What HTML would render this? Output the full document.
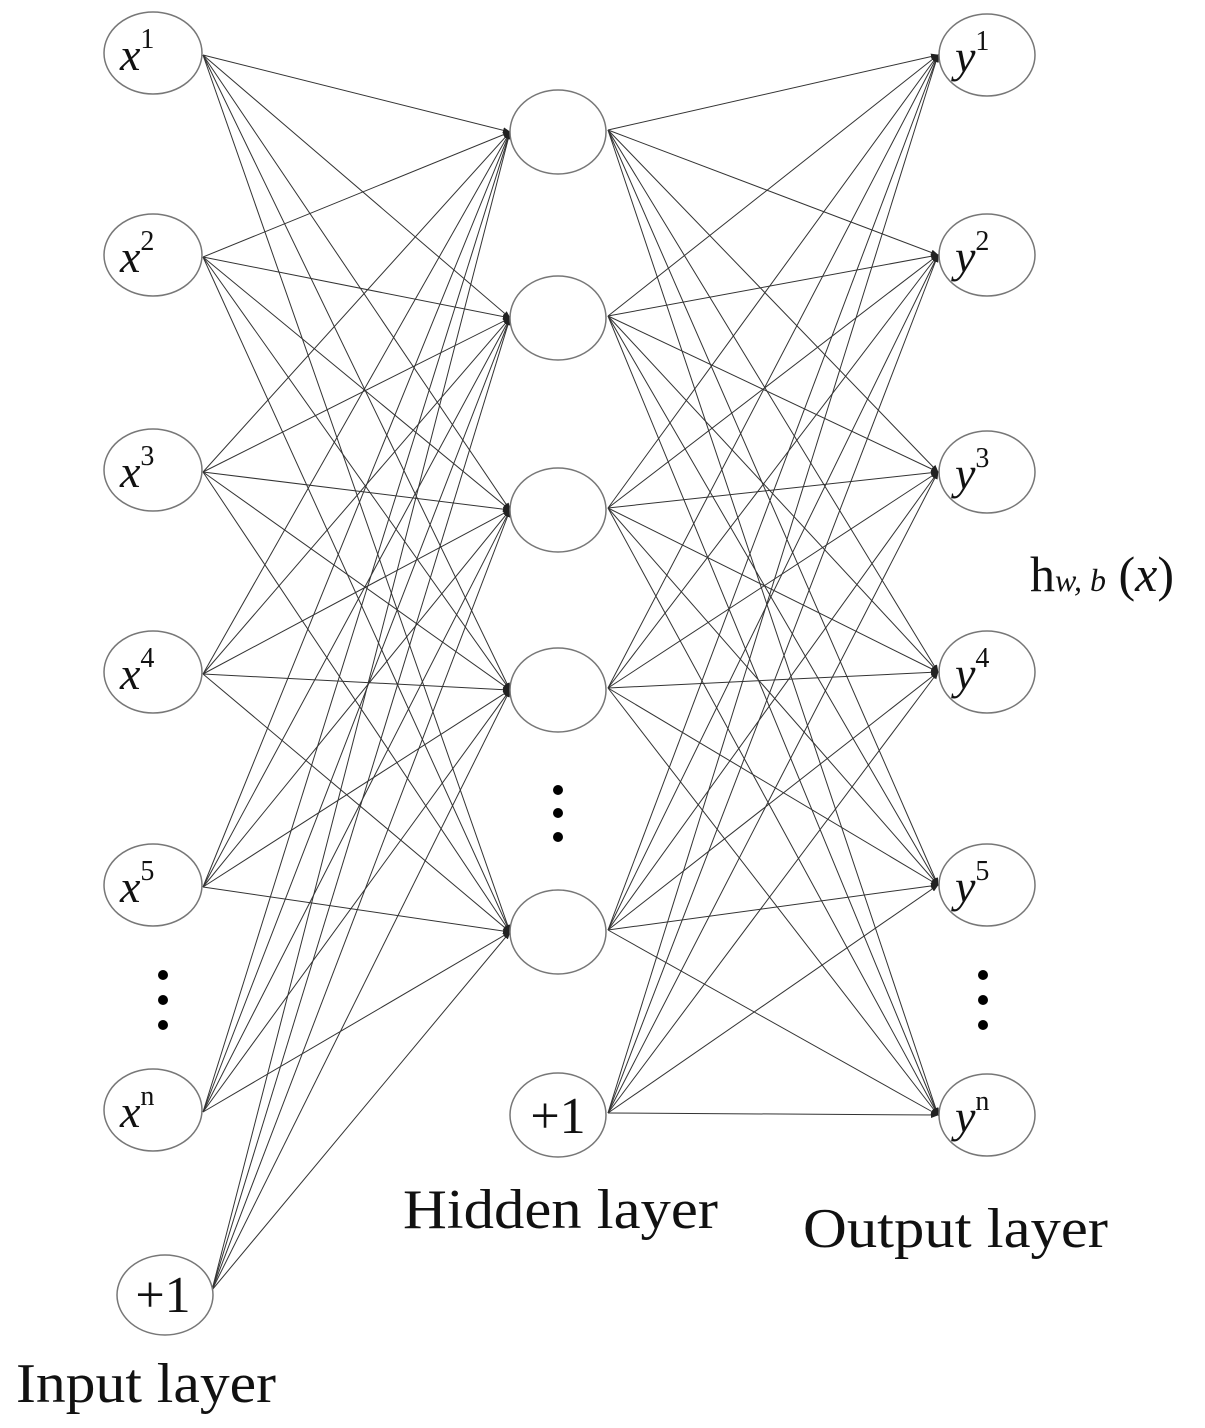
<!DOCTYPE html>
<html><head><meta charset="utf-8"><style>
html,body{margin:0;padding:0;background:#fff;}
svg{display:block;}
text{font-family:"Liberation Serif",serif;fill:#111;}
</style></head><body>
<svg id="s" width="1205" height="1428" viewBox="0 0 1205 1428" xmlns="http://www.w3.org/2000/svg">
<defs>
<marker id="a" markerWidth="8" markerHeight="6" refX="7" refY="3" orient="auto" markerUnits="userSpaceOnUse">
<path d="M0,0 L8,3 L0,6 z" fill="#222"/>
</marker>
</defs>
<g id="edges" stroke="#333" stroke-width="1" fill="none"></g>
<g fill="#fff" stroke="#777" stroke-width="1.5">
<ellipse cx="153" cy="53" rx="49" ry="41"/>
<ellipse cx="153" cy="255" rx="49" ry="41"/>
<ellipse cx="153" cy="470" rx="49" ry="41"/>
<ellipse cx="153" cy="672" rx="49" ry="41"/>
<ellipse cx="153" cy="885" rx="49" ry="41"/>
<ellipse cx="153" cy="1110" rx="49" ry="41"/>
<ellipse cx="165" cy="1295" rx="48" ry="40"/>
<ellipse cx="558" cy="132" rx="48" ry="42"/>
<ellipse cx="558" cy="318" rx="48" ry="42"/>
<ellipse cx="558" cy="510" rx="48" ry="42"/>
<ellipse cx="558" cy="690" rx="48" ry="42"/>
<ellipse cx="558" cy="932" rx="48" ry="42"/>
<ellipse cx="558" cy="1115" rx="48" ry="42"/>
<ellipse cx="987" cy="55" rx="48" ry="41"/>
<ellipse cx="987" cy="255" rx="48" ry="41"/>
<ellipse cx="987" cy="472" rx="48" ry="41"/>
<ellipse cx="987" cy="672" rx="48" ry="41"/>
<ellipse cx="987" cy="885" rx="48" ry="41"/>
<ellipse cx="987" cy="1115" rx="48" ry="41"/>
</g>
<g font-size="46" font-style="italic">
<text x="120" y="70">x<tspan font-size="28" font-style="normal" dy="-22">1</tspan></text>
<text x="120" y="272">x<tspan font-size="28" font-style="normal" dy="-22">2</tspan></text>
<text x="120" y="487">x<tspan font-size="28" font-style="normal" dy="-22">3</tspan></text>
<text x="120" y="689">x<tspan font-size="28" font-style="normal" dy="-22">4</tspan></text>
<text x="120" y="902">x<tspan font-size="28" font-style="normal" dy="-22">5</tspan></text>
<text x="120" y="1127">x<tspan font-size="28" font-style="normal" dy="-22">n</tspan></text>
<text x="955" y="72">y<tspan font-size="28" font-style="normal" dy="-22">1</tspan></text>
<text x="955" y="272">y<tspan font-size="28" font-style="normal" dy="-22">2</tspan></text>
<text x="955" y="489">y<tspan font-size="28" font-style="normal" dy="-22">3</tspan></text>
<text x="955" y="689">y<tspan font-size="28" font-style="normal" dy="-22">4</tspan></text>
<text x="955" y="902">y<tspan font-size="28" font-style="normal" dy="-22">5</tspan></text>
<text x="955" y="1132">y<tspan font-size="28" font-style="normal" dy="-22">n</tspan></text>
</g>
<text x="163" y="1312" font-size="52" text-anchor="middle">+1</text>
<text x="558" y="1133" font-size="52" text-anchor="middle">+1</text>
<g fill="#000">
<circle cx="163" cy="975" r="5"/><circle cx="163" cy="1000" r="5"/><circle cx="163" cy="1025" r="5"/>
<circle cx="558" cy="790" r="5"/><circle cx="558" cy="813" r="5"/><circle cx="558" cy="837" r="5"/>
<circle cx="983" cy="975" r="5"/><circle cx="983" cy="1000" r="5"/><circle cx="983" cy="1025" r="5"/>
</g>
<text x="1030" y="591" font-size="50">h<tspan font-size="32" font-style="italic">w, b</tspan><tspan> (</tspan><tspan font-style="italic">x</tspan>)</text>
<text x="403" y="1228" font-size="56" textLength="315" lengthAdjust="spacingAndGlyphs">Hidden layer</text>
<text x="803" y="1247" font-size="56" textLength="305" lengthAdjust="spacingAndGlyphs">Output layer</text>
<text x="16" y="1402" font-size="56" textLength="260" lengthAdjust="spacingAndGlyphs">Input layer</text>
</svg>
<script>
(function(){
var g=document.getElementById('edges');
var ns='http://www.w3.org/2000/svg';
function L(x1,y1,x2,y2){var l=document.createElementNS(ns,'line');l.setAttribute('x1',x1);l.setAttribute('y1',y1);l.setAttribute('x2',x2);l.setAttribute('y2',y2);l.setAttribute('marker-end','url(#a)');g.appendChild(l);}
var inp=[[203,55],[203,257],[203,472],[203,674],[203,887],[203,1112],[212,1290]];
var hid=[132,318,510,690,932];
var hs=[[608,130],[608,316],[608,508],[608,688],[608,930],[608,1113]];
var out=[55,255,472,672,885,1115];
inp.forEach(function(p){hid.forEach(function(h){L(p[0],p[1],510,h);});});
hs.forEach(function(p){out.forEach(function(o){L(p[0],p[1],938,o);});});
})();
</script>
</body></html>
